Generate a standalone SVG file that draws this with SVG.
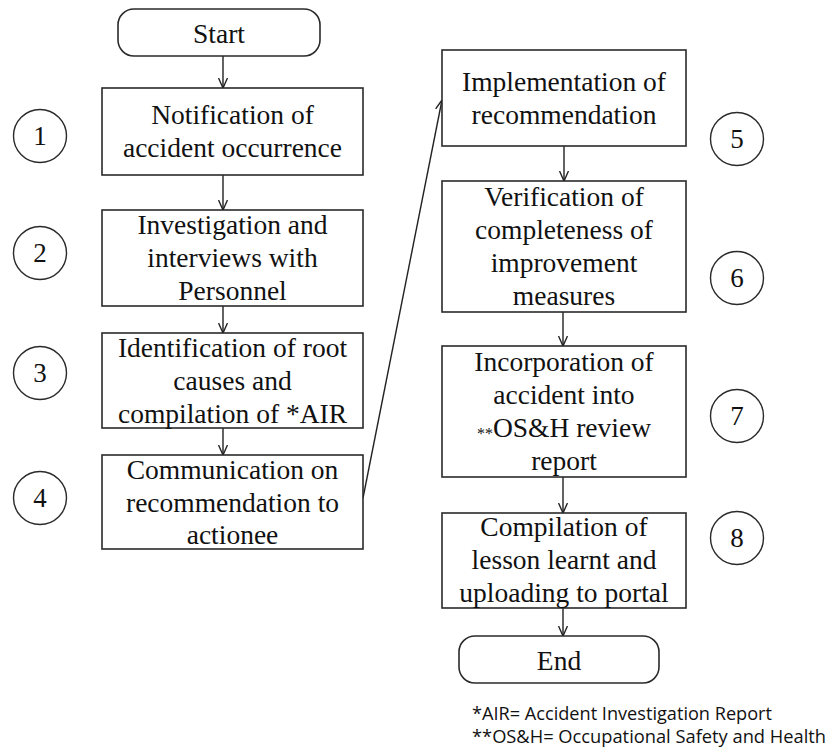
<svg xmlns="http://www.w3.org/2000/svg" width="835" height="754" viewBox="0 0 835 754">
  <defs>
    <marker id="arrow" viewBox="0 0 10 10" refX="10" refY="5" markerWidth="10" markerHeight="10" markerUnits="userSpaceOnUse" orient="auto">
      <path d="M0,0.5 L10,5 L0,9.5" fill="none" stroke="#222" stroke-width="1.4"/>
    </marker>
  </defs>
  <style>
    .box { fill: #fff; stroke: #2a2a2a; stroke-width: 1.6; }
    .term { fill: #fff; stroke: #2a2a2a; stroke-width: 1.6; }
    .num { fill: #fff; stroke: #2a2a2a; stroke-width: 1.4; }
    .lbl { font-family: 'Liberation Serif', 'DejaVu Serif', serif; font-size: 27.5px; fill: #111; text-anchor: middle; }
    .n { font-family: 'Liberation Serif', 'DejaVu Serif', serif; font-size: 27px; fill: #111; text-anchor: middle; }
    .note { font-family: 'Open Sans', 'Liberation Sans', sans-serif; font-size: 18.5px; fill: #111; }
    .conn { fill: none; stroke: #222; stroke-width: 1.4; marker-end: url(#arrow); }
  </style>
  <rect width="835" height="754" fill="#fff"/>

  <!-- connectors -->
  <g id="connectors">
    <line class="conn" x1="223" y1="56" x2="223" y2="88"/>
    <line class="conn" x1="223" y1="175" x2="223" y2="210"/>
    <line class="conn" x1="223" y1="306" x2="223" y2="333"/>
    <line class="conn" x1="223" y1="428" x2="223" y2="455"/>
    <line class="conn" x1="363" y1="498" x2="442" y2="100"/>
    <line class="conn" x1="564" y1="146" x2="564" y2="181"/>
    <line class="conn" x1="563" y1="312" x2="563" y2="346"/>
    <line class="conn" x1="563" y1="477" x2="563" y2="513"/>
    <line class="conn" x1="563" y1="608" x2="563" y2="636"/>
  </g>

  <!-- terminals -->
  <g id="start">
    <rect class="term" x="118" y="9" width="202" height="47" rx="16"/>
    <text class="lbl" x="219" y="43">Start</text>
  </g>
  <g id="end">
    <rect class="term" x="459" y="636" width="200" height="47" rx="16"/>
    <text class="lbl" x="559" y="670">End</text>
  </g>

  <!-- left column steps -->
  <g id="step1">
    <rect class="box" x="102" y="88" width="261" height="87"/>
    <text class="lbl" x="232.5" y="124">Notification of</text>
    <text class="lbl" x="232.5" y="157">accident occurrence</text>
  </g>
  <g id="step2">
    <rect class="box" x="102" y="210" width="261" height="96"/>
    <text class="lbl" x="232.5" y="234">Investigation and</text>
    <text class="lbl" x="232.5" y="267">interviews with</text>
    <text class="lbl" x="232.5" y="300">Personnel</text>
  </g>
  <g id="step3">
    <rect class="box" x="102" y="333" width="261" height="95"/>
    <text class="lbl" x="232.5" y="357">Identification of root</text>
    <text class="lbl" x="232.5" y="390">causes and</text>
    <text class="lbl" x="232.5" y="423">compilation of *AIR</text>
  </g>
  <g id="step4">
    <rect class="box" x="102" y="455" width="261" height="94"/>
    <text class="lbl" x="232.5" y="479">Communication on</text>
    <text class="lbl" x="232.5" y="512">recommendation to</text>
    <text class="lbl" x="232.5" y="544">actionee</text>
  </g>

  <!-- right column steps -->
  <g id="step5">
    <rect class="box" x="442" y="50" width="244" height="96"/>
    <text class="lbl" x="564" y="91">Implementation of</text>
    <text class="lbl" x="564" y="124">recommendation</text>
  </g>
  <g id="step6">
    <rect class="box" x="442" y="181" width="244" height="131"/>
    <text class="lbl" x="564" y="206">Verification of</text>
    <text class="lbl" x="564" y="239">completeness of</text>
    <text class="lbl" x="564" y="272">improvement</text>
    <text class="lbl" x="564" y="305">measures</text>
  </g>
  <g id="step7">
    <rect class="box" x="442" y="346" width="244" height="131"/>
    <text class="lbl" x="564" y="371">Incorporation of</text>
    <text class="lbl" x="564" y="404">accident into</text>
    <text class="lbl" x="564" y="437"><tspan font-size="16" dy="2">**</tspan><tspan dy="-2">OS&amp;H review</tspan></text>
    <text class="lbl" x="564" y="470">report</text>
  </g>
  <g id="step8">
    <rect class="box" x="442" y="513" width="244" height="95"/>
    <text class="lbl" x="564" y="536">Compilation of</text>
    <text class="lbl" x="564" y="569">lesson learnt and</text>
    <text class="lbl" x="564" y="602">uploading to portal</text>
  </g>

  <!-- step numbers -->
  <g id="num1"><circle class="num" cx="40" cy="136" r="26.5"/><text class="n" x="40" y="145">1</text></g>
  <g id="num2"><circle class="num" cx="40" cy="253" r="26.5"/><text class="n" x="40" y="262">2</text></g>
  <g id="num3"><circle class="num" cx="40" cy="373" r="26.5"/><text class="n" x="40" y="382">3</text></g>
  <g id="num4"><circle class="num" cx="40" cy="498" r="26.5"/><text class="n" x="40" y="507">4</text></g>
  <g id="num5"><circle class="num" cx="737" cy="139" r="26.5"/><text class="n" x="737" y="148">5</text></g>
  <g id="num6"><circle class="num" cx="737" cy="278" r="26.5"/><text class="n" x="737" y="287">6</text></g>
  <g id="num7"><circle class="num" cx="737" cy="416" r="26.5"/><text class="n" x="737" y="425">7</text></g>
  <g id="num8"><circle class="num" cx="737" cy="538" r="26.5"/><text class="n" x="737" y="547">8</text></g>

  <!-- abbreviations -->
  <g id="legend">
    <text class="note" x="472" y="720" textLength="300" lengthAdjust="spacingAndGlyphs">*AIR= Accident Investigation Report</text>
    <text class="note" x="472" y="743" textLength="354" lengthAdjust="spacingAndGlyphs">**OS&amp;H= Occupational Safety and Health</text>
  </g>
</svg>
